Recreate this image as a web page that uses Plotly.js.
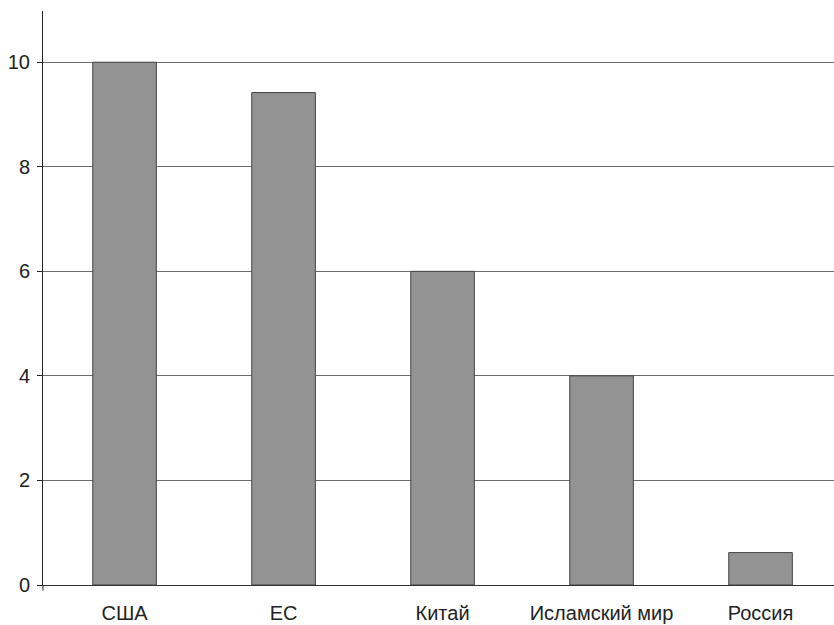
<!DOCTYPE html>
<html>
<head>
<meta charset="utf-8">
<script src="https://cdn.plot.ly/plotly-3.0.1.min.js"></script>
<style>html,body{margin:0;padding:0;background:#fff}#chart{width:834px;height:625px}</style>
</head>
<body>
<div id="chart"></div>
<script>
const categories = ["США", "ЕС", "Китай", "Исламский мир", "Россия"];
const values = [10, 9.42, 6, 4, 0.62];
const yTicks = [0, 2, 4, 6, 8, 10];

const trace = {
  type: "bar",
  x: categories,
  y: values,
  width: 0.4,
  marker: { color: "#939393", line: { color: "#444444", width: 1 } },
  hoverinfo: "none"
};

const layout = {
  width: 834,
  height: 625,
  margin: { l: 43, r: 0, t: 11, b: 40 },
  paper_bgcolor: "#ffffff",
  plot_bgcolor: "#ffffff",
  showlegend: false,
  font: { family: "Liberation Sans, Arial, sans-serif", size: 20, color: "#222222" },
  xaxis: {
    type: "category",
    range: [-0.513, 4.462],
    showline: true,
    linecolor: "#333333",
    linewidth: 1,
    ticks: "outside",
    ticklen: 10,
    tickcolor: "rgba(0,0,0,0)",
    showgrid: false,
    zeroline: false,
    automargin: false,
    fixedrange: true
  },
  yaxis: {
    range: [0, 10.98],
    tickvals: yTicks,
    ticktext: yTicks.map(String),
    showline: true,
    linecolor: "#222222",
    linewidth: 1,
    ticks: "outside",
    ticklen: 5,
    tickcolor: "#222222",
    ticklabelstandoff: 3,
    showgrid: true,
    gridcolor: "#6a6a6a",
    gridwidth: 1,
    zeroline: false,
    automargin: false,
    fixedrange: true
  },
  shapes: [
    { type: "line", xref: "paper", yref: "paper", x0: 0, x1: 0, y0: 0, y1: -0.01, line: { color: "#222222", width: 1 } }
  ]
};

Plotly.newPlot("chart", [trace], layout, { staticPlot: true, displayModeBar: false });
</script>
</body>
</html>
